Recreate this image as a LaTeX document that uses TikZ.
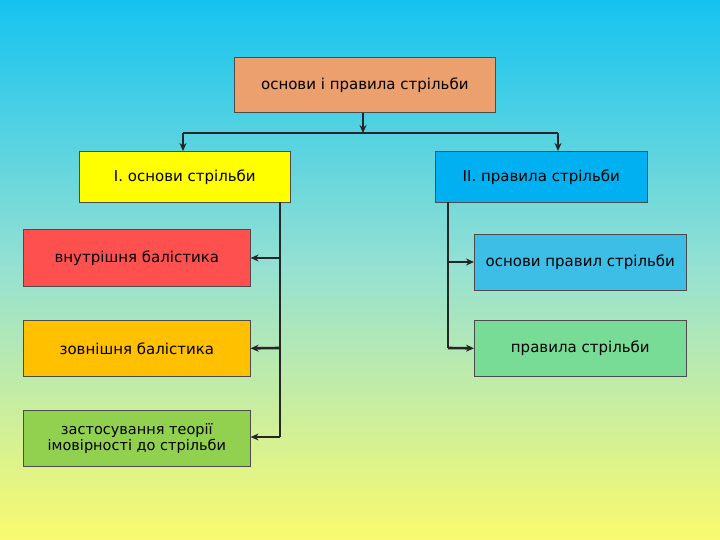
\documentclass[tikz,border=0pt]{standalone}
\usepackage{fontspec}
\setmainfont{DejaVu Sans}
\usetikzlibrary{arrows.meta}
\definecolor{bgtop}{RGB}{20,195,240}
\definecolor{bgmid}{RGB}{150,225,210}
\definecolor{bgbot}{RGB}{250,250,110}
\begin{document}
\begin{tikzpicture}[x=1pt,y=-1pt,
  box/.style={draw=black!70,line width=0.6pt,anchor=north west,inner sep=0pt,align=center,font=\fontsize{15}{16}\selectfont},
  conn/.style={line width=2.6pt,draw=black!85},
  arr/.style={conn,-{Stealth[length=8pt,width=7pt]}}]
\shade[top color=bgtop,bottom color=bgbot,middle color=bgmid] (0,0) rectangle (720,540);
\useasboundingbox (0,0) rectangle (720,540);
\node[box,fill={rgb,255:red,235;green,160;blue,110},minimum width=261pt,minimum height=55pt] (top) at (234,57) {основи і правила стрільби};
\node[box,fill={rgb,255:red,255;green,255;blue,0},minimum width=211pt,minimum height=51pt] (l1) at (79,151) {І. основи стрільби};
\node[box,fill={rgb,255:red,0;green,176;blue,240},minimum width=212pt,minimum height=51pt] (r1) at (435,151) {ІІ. правила стрільби};
\node[box,fill={rgb,255:red,255;green,80;blue,80},minimum width=227pt,minimum height=57pt] (a) at (23,229) {внутрішня балістика};
\node[box,fill={rgb,255:red,255;green,192;blue,0},minimum width=227pt,minimum height=56pt] (b) at (23,320) {зовнішня балістика};
\node[box,fill={rgb,255:red,146;green,208;blue,80},minimum width=227pt,minimum height=56pt,font=\fontsize{14.5}{16}\selectfont] (c) at (23,410) {застосування теорії\\імовірності до стрільби};
\node[box,fill={rgb,255:red,60;green,190;blue,230},minimum width=212pt,minimum height=56pt] (d) at (474,234) {основи правил стрільби};
\node[box,fill={rgb,255:red,120;green,220;blue,150},minimum width=212pt,minimum height=56pt] (e) at (474,320) {правила стрільби};
\coordinate (j) at (363,133);
\draw[arr] (top.south -| j) -- (j);
\draw[conn] (183,133) -- (558,133);
\draw[arr] (183,133) -- (l1.north -| 183,0);
\draw[arr] (558,133) -- (r1.north -| 558,0);
\draw[conn] (280,202) -- (280,437);
\draw[arr] (280,258) -- (a.east |- 0,258);
\draw[arr] (280,348) -- (b.east);
\draw[arr] (280,437) -- (c.east |- 0,437);
\draw[conn] (448,202) -- (448,348);
\draw[arr] (448,262) -- (d.west |- 0,262);
\draw[arr] (448,348) -- (e.west);
\end{tikzpicture}
\end{document}
